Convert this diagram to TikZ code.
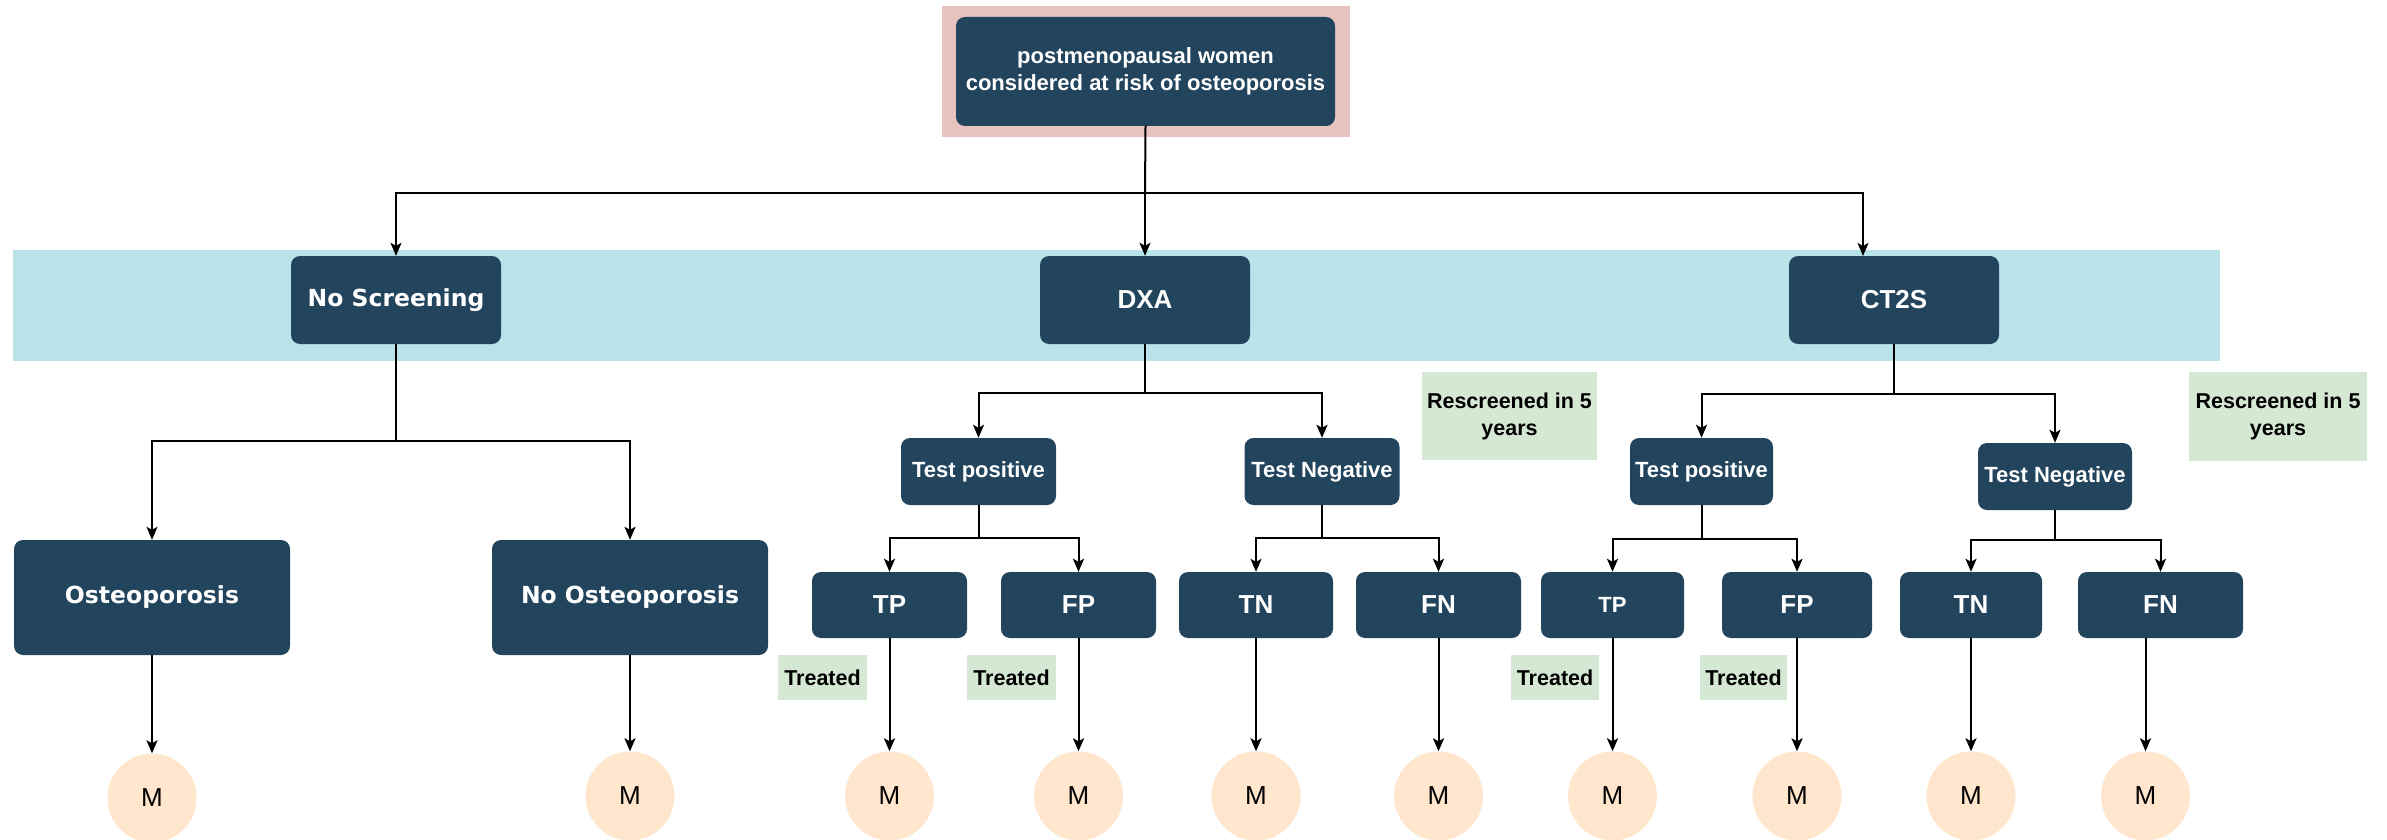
\documentclass[tikz,border=0pt]{standalone}
\usepackage{fontspec}
\setmainfont{Liberation Sans}
\newfontfamily\dvs{DejaVu Sans}
\usetikzlibrary{arrows.meta}
\definecolor{navy}{HTML}{23445D}
\definecolor{pinkbg}{HTML}{E6C3BF}
\definecolor{bandblue}{HTML}{B8E3E8}
\definecolor{lgreen}{HTML}{D5E8D4}
\definecolor{peach}{HTML}{FFE6CC}
\tikzset{
  dbox/.style={rectangle, rounded corners=9pt, fill=navy, text=white, inner sep=0pt, align=center, font=\bfseries\fontsize{22}{27}\selectfont},
  bigtxt/.style={font=\bfseries\fontsize{26}{30}\selectfont},
  dvtxt/.style={font=\dvs\bfseries\fontsize{23.5}{28}\selectfont},
  gbox/.style={rectangle, fill=lgreen, text=black, inner sep=0pt, align=center, font=\bfseries\fontsize{21.5}{27}\selectfont},
  mcirc/.style={circle, fill=peach, minimum size=89pt, inner sep=0pt, font=\fontsize{26}{30}\selectfont},
  arr/.style={draw=black, line width=2pt, -{Stealth[length=13pt,width=11pt,inset=3pt]}},
  ln/.style={draw=black, line width=2pt},
}
\begin{document}
\begin{tikzpicture}[x=1pt,y=-1pt]
\useasboundingbox (0,0) rectangle (2387,840);
% backgrounds
\fill[pinkbg] (942,6) rectangle (1350,137);
\fill[bandblue] (13,250) rectangle (2220,361);

% top
\node[dbox, minimum width=379pt, minimum height=109pt] (top) at (1145.5,71.5) {postmenopausal women\\considered at risk of osteoporosis};

% level 1
\node[dbox, dvtxt, minimum width=210pt, minimum height=88pt] (nos) at (396,300) {No Screening};
\node[dbox, bigtxt, minimum width=210pt, minimum height=88pt] (dxa) at (1145,300) {DXA};
\node[dbox, bigtxt, minimum width=210pt, minimum height=88pt] (ct2s) at (1894,300) {CT2S};

% no screening branch
\node[dbox, dvtxt, minimum width=276pt, minimum height=115pt] (ost) at (152,597.5) {Osteoporosis};
\node[dbox, dvtxt, minimum width=276pt, minimum height=115pt] (noost) at (630,597.5) {No Osteoporosis};

% DXA branch
\node[dbox, minimum width=155pt, minimum height=67pt] (tp1) at (978.5,471.5) {Test positive};
\node[dbox, minimum width=155pt, minimum height=67pt] (tn1) at (1322,471.5) {Test Negative};
\node[dbox, bigtxt, minimum width=155pt, minimum height=66pt] (tpa) at (889.5,605) {TP};
\node[dbox, bigtxt, minimum width=155pt, minimum height=66pt] (fpa) at (1078.5,605) {FP};
\node[dbox, bigtxt, minimum width=154pt, minimum height=66pt] (tna) at (1256,605) {TN};
\node[dbox, bigtxt, minimum width=165pt, minimum height=66pt] (fna) at (1438.5,605) {FN};

% CT2S branch
\node[dbox, minimum width=143pt, minimum height=67pt] (tp2) at (1701.5,471.5) {Test positive};
\node[dbox, minimum width=154pt, minimum height=67pt] (tn2) at (2055,476.5) {Test Negative};
\node[dbox, minimum width=143pt, minimum height=66pt] (tpb) at (1612.5,605) {TP};
\node[dbox, bigtxt, minimum width=150pt, minimum height=66pt] (fpb) at (1797,605) {FP};
\node[dbox, bigtxt, minimum width=142pt, minimum height=66pt] (tnb) at (1971,605) {TN};
\node[dbox, bigtxt, minimum width=165pt, minimum height=66pt] (fnb) at (2160.5,605) {FN};

% green labels
\node[gbox, minimum width=89pt, minimum height=45pt] (t1) at (822.5,677.5) {Treated};
\node[gbox, minimum width=89pt, minimum height=45pt] (t2) at (1011.5,677.5) {Treated};
\node[gbox, minimum width=88pt, minimum height=45pt] (t3) at (1555,677.5) {Treated};
\node[gbox, minimum width=87pt, minimum height=45pt] (t4) at (1743.5,677.5) {Treated};
\node[gbox, minimum width=175pt, minimum height=88pt] (r1) at (1509.5,416) {Rescreened in 5\\years};
\node[gbox, minimum width=178pt, minimum height=89pt] (r2) at (2278,416.5) {Rescreened in 5\\years};

% outcome circles
\node[mcirc] (m1) at (152,798) {M};
\node[mcirc] (m2) at (630,796) {M};
\node[mcirc] (m3) at (889.5,796) {M};
\node[mcirc] (m4) at (1078.5,796) {M};
\node[mcirc] (m5) at (1256,796) {M};
\node[mcirc] (m6) at (1438.5,796) {M};
\node[mcirc] (m7) at (1612.5,796) {M};
\node[mcirc] (m8) at (1797,796) {M};
\node[mcirc] (m9) at (1971,796) {M};
\node[mcirc] (m10) at (2145.5,796) {M};

% junctions
\coordinate (j0) at (1145,193);
\coordinate (ct2sin) at (1863,256);
\coordinate (j1) at (396,441);
\coordinate (j2) at (1145,393);
\coordinate (j3) at (978.5,538);
\coordinate (j4) at (1322,538);
\coordinate (j5) at (1894,394);
\coordinate (j6) at (1701.5,539);
\coordinate (j7) at (2055,540);

% connectors
\draw[ln] (top.south) -- (j0);
\draw[arr] (j0) -| (nos.north);
\draw[arr] (j0) -- (dxa.north);
\draw[arr] (j0) -| (ct2sin);

\draw[ln] (nos.south) -- (j1);
\draw[arr] (j1) -| (ost.north);
\draw[arr] (j1) -| (noost.north);
\draw[arr] (ost.south) -- (m1.north);
\draw[arr] (noost.south) -- (m2.north);

\draw[ln] (dxa.south) -- (j2);
\draw[arr] (j2) -| (tp1.north);
\draw[arr] (j2) -| (tn1.north);
\draw[ln] (tp1.south) -- (j3);
\draw[arr] (j3) -| (tpa.north);
\draw[arr] (j3) -| (fpa.north);
\draw[ln] (tn1.south) -- (j4);
\draw[arr] (j4) -| (tna.north);
\draw[arr] (j4) -| (fna.north);
\draw[arr] (tpa.south) -- (m3.north);
\draw[arr] (fpa.south) -- (m4.north);
\draw[arr] (tna.south) -- (m5.north);
\draw[arr] (fna.south) -- (m6.north);

\draw[ln] (ct2s.south) -- (j5);
\draw[arr] (j5) -| (tp2.north);
\draw[arr] (j5) -| (tn2.north);
\draw[ln] (tp2.south) -- (j6);
\draw[arr] (j6) -| (tpb.north);
\draw[arr] (j6) -| (fpb.north);
\draw[ln] (tn2.south) -- (j7);
\draw[arr] (j7) -| (tnb.north);
\draw[arr] (j7) -| (fnb.north);
\draw[arr] (tpb.south) -- (m7.north);
\draw[arr] (fpb.south) -- (m8.north);
\draw[arr] (tnb.south) -- (m9.north);
\draw[arr] ([xshift=-15pt]fnb.south) -- (m10.north);
\end{tikzpicture}
\end{document}
